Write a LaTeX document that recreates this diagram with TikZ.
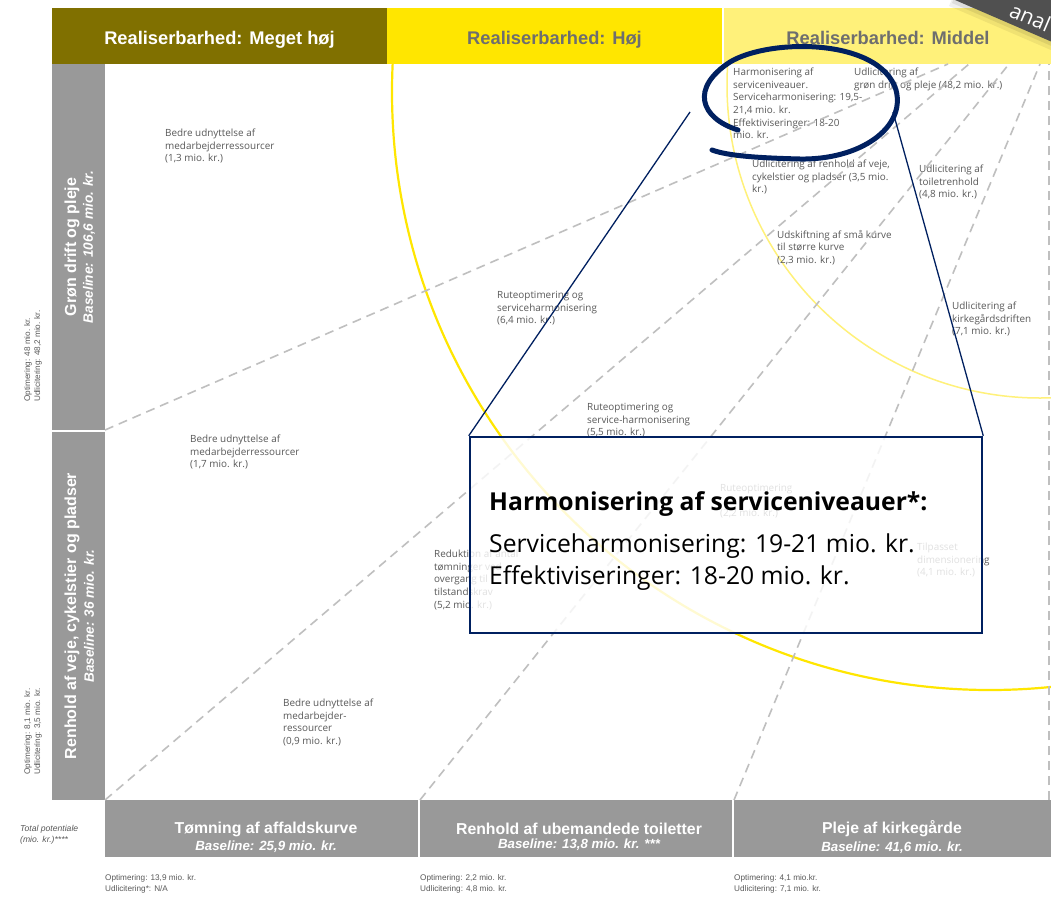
\documentclass[tikz,border=0pt]{standalone}
\usepackage{fontspec}
\setmainfont{Open Sans}
\setsansfont{Liberation Sans}
\usetikzlibrary{positioning}

\definecolor{olivehdr}{RGB}{128,112,0}
\definecolor{yellowhdr}{RGB}{255,230,0}
\definecolor{paleyellow}{RGB}{255,241,122}
\definecolor{bargray}{RGB}{153,153,153}
\definecolor{cellgray}{RGB}{89,89,89}
\definecolor{hdrtext}{RGB}{110,110,110}
\definecolor{navyblue}{RGB}{0,32,96}
\definecolor{dashgray}{RGB}{191,191,191}
\definecolor{ribbongray}{RGB}{80,80,80}

\begin{document}
\begin{tikzpicture}[
    x=1pt, y=-1pt,
    hdrbox/.style={
        rectangle,
        inner sep=0pt,
        minimum height=56,
        text height=20pt,
        text depth=3pt,
        font=\sffamily\bfseries\fontsize{18.3}{20}\selectfont
    },
    sidebar/.style={
        rectangle,
        fill=bargray,
        inner sep=0pt,
        minimum width=53
    },
    bottombar/.style={
        rectangle,
        fill=bargray,
        inner sep=0pt,
        minimum height=57
    },
    sidetitle/.style={
        rotate=90,
        inner sep=0pt,
        text=white,
        font=\sffamily\bfseries\fontsize{16}{18}\selectfont
    },
    sidebase/.style={
        rotate=90,
        inner sep=0pt,
        text=white,
        font=\sffamily\bfseries\itshape\fontsize{13.6}{15}\selectfont
    },
    bartitle/.style={
        inner sep=0pt,
        text=white,
        font=\sffamily\bfseries\fontsize{15.8}{17}\selectfont
    },
    barbase/.style={
        inner sep=0pt,
        text=white,
        font=\sffamily\bfseries\itshape\fontsize{13.3}{15}\selectfont
    },
    sidenote/.style={
        rotate=90,
        anchor=west,
        inner sep=0pt,
        align=left,
        text=cellgray,
        font=\sffamily\fontsize{8.2}{10}\selectfont
    },
    footnote/.style={
        anchor=north west,
        inner sep=0pt,
        align=left,
        text=cellgray,
        font=\sffamily\fontsize{8.2}{11}\selectfont
    },
    cell/.style={
        anchor=north west,
        inner sep=0pt,
        align=left,
        text=cellgray,
        font=\fontsize{9.9}{12.6}\selectfont
    },
    dashline/.style={
        draw=dashgray,
        line width=1.6pt,
        dash pattern=on 9pt off 6pt
    },
    zoomline/.style={
        draw=navyblue,
        line width=1.3pt
    }
]

\useasboundingbox (0,0) rectangle (1051,902);
\fill[white] (0,0) rectangle (1051,902);

% header row
\node[hdrbox, fill=olivehdr, minimum width=335, text=white] (hdrA) at (219.5,36) {Realiserbarhed: Meget høj};
\node[hdrbox, fill=yellowhdr, minimum width=335, text=hdrtext] (hdrB) at (554.5,36) {Realiserbarhed: Høj};
\node[hdrbox, fill=paleyellow, minimum width=329, text=hdrtext] (hdrC) at (888,36) {Realiserbarhed: Middel};

% left axis
\node[sidebar, minimum height=366] (grnbar) at (78.5,247) {};
\node[sidetitle] (grntitle) at (72,247) {Grøn drift og pleje};
\node[sidebase] (grnbase) at (89,247) {Baseline: 106,6 mio. kr.};
\node[sidebar, minimum height=368] (vejbar) at (78.5,616) {};
\node[sidetitle] (vejtitle) at (72,616) {Renhold af veje, cykelstier og pladser};
\node[sidebase] (vejbase) at (89,616) {Baseline: 36 mio. kr.};

\node[sidenote] (grnnote) at (33,402) {Optimering: 48 mio. kr.\\Udlicitering: 48,2 mio. kr.};
\node[sidenote] (vejnote) at (33,775) {Optimering: 8,1 mio. kr.\\Udlicitering: 3,5 mio. kr.};

% bottom axis
\node[bottombar, minimum width=313] (tombar) at (261.5,828.5) {};
\node[bartitle] (tomtitle) at (266,829) {Tømning af affaldskurve};
\node[barbase, below=4pt of tomtitle] (tombase) {Baseline: 25,9 mio. kr.};
\node[bottombar, minimum width=312] (toiletbar) at (576,828.5) {};
\node[bartitle] (toilettitle) at (579,829) {Renhold af ubemandede toiletter};
\node[barbase, below=4pt of toilettitle] (toiletbase) {Baseline: 13,8 mio. kr. ***};
\node[bottombar, minimum width=317] (kirkebar) at (892.5,828.5) {};
\node[bartitle] (kirketitle) at (892,829) {Pleje af kirkegårde};
\node[barbase, below=4pt of kirketitle] (kirkebase) {Baseline: 41,6 mio. kr.};

\node[anchor=west, inner sep=0pt, align=left, text=cellgray,
      font=\sffamily\itshape\fontsize{8.6}{11}\selectfont] (totalnote) at (20,835) {Total potentiale\\(mio. kr.)****};

\node[footnote] (tomnote) at (105,874) {Optimering: 13,9 mio. kr.\\Udlicitering*: N/A};
\node[footnote] (toiletnote) at (420,874) {Optimering: 2,2 mio. kr.\\Udlicitering: 4,8 mio. kr.};
\node[footnote] (kirkenote) at (734,874) {Optimering: 4,1 mio.kr.\\Udlicitering: 7,1 mio. kr.};

% realisation circles
\begin{scope}
    \clip (105,64) rectangle (1051,800);
    \draw[yellowhdr, line width=2.2pt] (990,92) circle[radius=598];
    \draw[paleyellow, line width=1.5pt] (1040,85) circle[radius=313];
\end{scope}

% cells
\node[cell] (c1) at (165,129) {Bedre udnyttelse af\\medarbejderressourcer\\(1,3 mio. kr.)};
\node[cell] (c2) at (190,435) {Bedre udnyttelse af\\medarbejderressourcer\\(1,7 mio. kr.)};
\node[cell] (c3) at (283,699) {Bedre udnyttelse af\\medarbejder-\\ressourcer\\(0,9 mio. kr.)};
\node[cell] (c4) at (497,291) {Ruteoptimering og\\serviceharmonisering\\(6,4 mio. kr.)};
\node[cell] (c5) at (587,403) {Ruteoptimering og\\service-harmonisering\\(5,5 mio. kr.)};
\node[cell] (c6) at (434,550) {Reduktion af antal\\tømninger ved\\overgang til\\tilstandskrav\\(5,2 mio. kr.)};
\node[cell] (c7) at (720,484) {Ruteoptimering\\[12.6pt](2,2 mio. kr.)};
\node[cell] (c8) at (917,543) {Tilpasset\\dimensionering\\(4,1 mio. kr.)};
\node[cell] (c9) at (733,68) {Harmonisering af\\serviceniveauer.\\Serviceharmonisering: 19,5-\\21,4 mio. kr.\\Effektiviseringer: 18-20\\mio. kr.};
\node[cell] (c10) at (854,68) {Udlicitering af\\grøn drift og pleje (48,2 mio. kr.)};
\node[cell] (c11) at (752,160) {Udlicitering af renhold af veje,\\cykelstier og pladser (3,5 mio.\\kr.)};
\node[cell] (c12) at (919,165) {Udlicitering af\\toiletrenhold\\(4,8 mio. kr.)};
\node[cell] (c13) at (777,230) {Udskiftning af små kurve\\til større kurve\\(2,3 mio. kr.)};
\node[cell] (c14) at (952,302) {Udlicitering af\\kirkegårdsdriften\\(7,1 mio. kr.)};

% diagonal guides
\coordinate (g1s) at (105,430);  \coordinate (g1e) at (948,64);
\coordinate (g2s) at (105,800);  \coordinate (g2e) at (969,64);
\coordinate (g3s) at (420,800);  \coordinate (g3e) at (1009,64);
\coordinate (g4s) at (734,800);  \coordinate (g4e) at (1040,64);
\coordinate (g5s) at (1049,800); \coordinate (g5e) at (1049,64);
\draw[dashline] (g1s) -- (g1e);
\draw[dashline] (g2s) -- (g2e);
\draw[dashline] (g3s) -- (g3e);
\draw[dashline] (g4s) -- (g4e);
\draw[dashline] (g5s) -- (g5e);

% zoom box
\node[draw=navyblue, line width=2.5pt, fill=white, fill opacity=0.82,
      minimum width=512, minimum height=196, inner sep=0pt] (zoombox) at (726,535) {};
\node[anchor=base west, inner sep=0pt, font=\bfseries\fontsize{24.7}{28}\selectfont] (boxtitle) at (489,510) {Harmonisering af serviceniveauer*:};
\node[anchor=base west, inner sep=0pt, font=\fontsize{24.7}{28}\selectfont] (boxline1) at (489,552) {Serviceharmonisering: 19-21 mio. kr.};
\node[anchor=base west, inner sep=0pt, font=\fontsize{24.7}{28}\selectfont] (boxline2) at (489,584) {Effektiviseringer: 18-20 mio. kr.};

% ring round the harmonisation cell
\coordinate (ringL) at (690,112);
\coordinate (ringR) at (893,112);
\draw[zoomline] (ringL) -- (zoombox.north west);
\draw[zoomline] (ringR) -- (zoombox.north east);
\draw[navyblue, line width=5pt, line cap=round]
    (738,130) .. controls (700,118) and (690,88) .. (730,62)
    .. controls (770,38) and (880,38) .. (896,90)
    .. controls (906,128) and (860,160) .. (800,159)
    .. controls (760,158) and (728,156) .. (712,150);

% corner ribbon
\begin{scope}
    \clip (0,0) rectangle (1051,902);
    \fill[black, opacity=0.06] (949,6) -- (1111,76) -- (1131,30) -- (969,-40) -- cycle;
    \fill[black, opacity=0.08] (952,3) -- (1114,73) -- (1134,27) -- (972,-43) -- cycle;
    \fill[ribbongray] (955,0) -- (1117,70) -- (1137,24) -- (975,-46) -- cycle;
    \node[rotate=-23, anchor=base west, inner sep=0pt, text=white,
          font=\fontsize{21}{21}\selectfont] (ribbontxt) at (1008,16) {anal};
\end{scope}

\end{tikzpicture}
\end{document}
